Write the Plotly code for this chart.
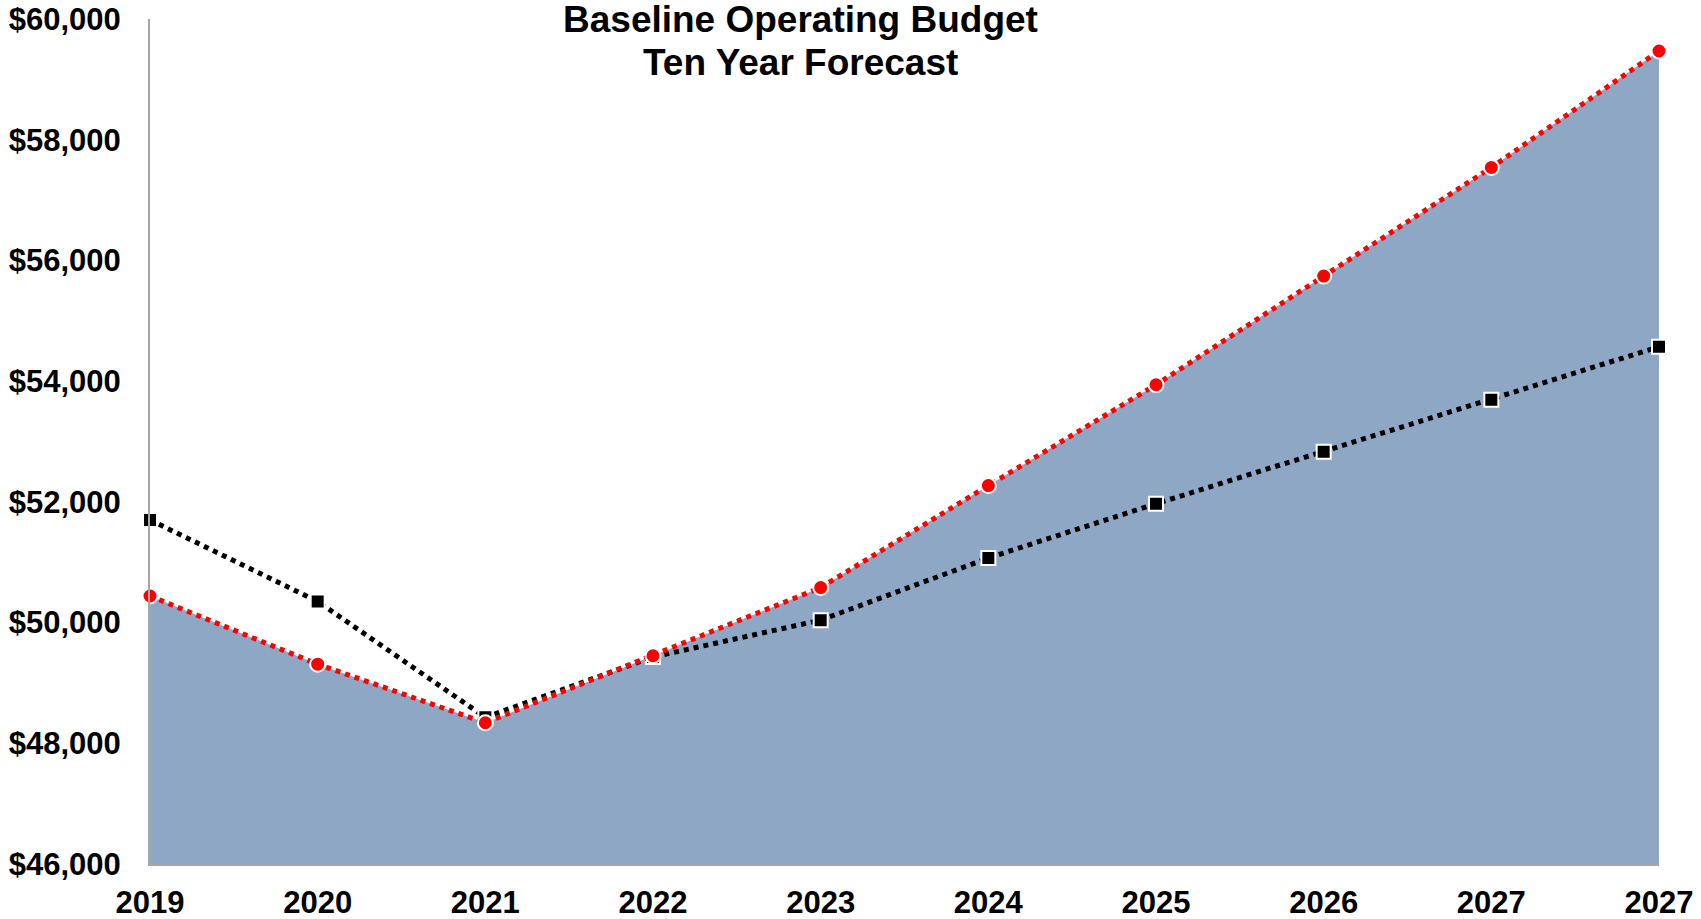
import plotly.graph_objects as go

years = ["2019", "2020", "2021", "2022", "2023", "2024", "2025", "2026", "2027", "2027"]
expenditures = [50440, 49310, 48340, 49450, 50580, 52270, 53940, 55740, 57540, 59470]
revenues = [51700, 50350, 48430, 49430, 50040, 51070, 51970, 52830, 53690, 54570]
y_ticks = [46000, 48000, 50000, 52000, 54000, 56000, 58000, 60000]
y_tick_text = ["${:,}".format(v) for v in y_ticks]

x = list(range(len(years)))

fig = go.Figure()

fig.add_trace(go.Scatter(
    x=x, y=expenditures, mode="lines", fill="tozeroy",
    fillcolor="#8DA7C5", line=dict(width=0, color="#8DA7C5"),
    hoverinfo="skip", showlegend=False,
))

fig.add_trace(go.Scatter(
    x=x, y=revenues, mode="lines+markers", cliponaxis=False,
    line=dict(color="black", width=5, dash="dot"),
    marker=dict(symbol="square", size=14, color="black",
                line=dict(color="white", width=2)),
    showlegend=False,
))

fig.add_trace(go.Scatter(
    x=x, y=expenditures, mode="lines+markers", cliponaxis=False,
    line=dict(color="#FF0000", width=5, dash="dot"),
    marker=dict(symbol="circle", size=15, color="#FF0000",
                line=dict(color="white", width=2)),
    showlegend=False,
))

tick_font = dict(family="Liberation Sans, Arial, sans-serif", size=31,
                 color="black", weight="bold")
title_font = dict(family="Liberation Sans, Arial, sans-serif", size=37,
                  color="black", weight="bold")

plot_top = 19
plot_bottom_margin = 55
plot_h = 919 - plot_top - plot_bottom_margin


def py(pixel_y):
    return 1 - (pixel_y - plot_top) / plot_h


fig.update_layout(
    width=1701, height=919,
    margin=dict(l=150, r=42, t=plot_top, b=plot_bottom_margin, autoexpand=False),
    paper_bgcolor="white", plot_bgcolor="white",
    xaxis=dict(
        range=[0, 9], tickvals=x, ticktext=years, automargin=False,
        showgrid=False, zeroline=False,
        showline=True, linecolor="#A6A6A6", linewidth=2,
        ticks="", tickfont=tick_font, ticklabelstandoff=10,
    ),
    yaxis=dict(
        range=[46000, 60000], tickvals=y_ticks, ticktext=y_tick_text,
        automargin=False,
        showgrid=False, zeroline=False,
        showline=True, linecolor="#A6A6A6", linewidth=2,
        ticks="", tickfont=tick_font, ticklabelstandoff=21,
    ),
    annotations=[
        dict(text="Baseline Operating Budget", x=0.4314, y=py(20), xref="paper",
             yref="paper", showarrow=False, xanchor="center", yanchor="middle",
             font=title_font),
        dict(text="Ten Year Forecast", x=0.4314, y=py(62), xref="paper",
             yref="paper", showarrow=False, xanchor="center", yanchor="middle",
             font=title_font),
    ],
)

fig.write_html("out.html", config={"displayModeBar": False},
               post_script="document.body.style.margin='0';")
